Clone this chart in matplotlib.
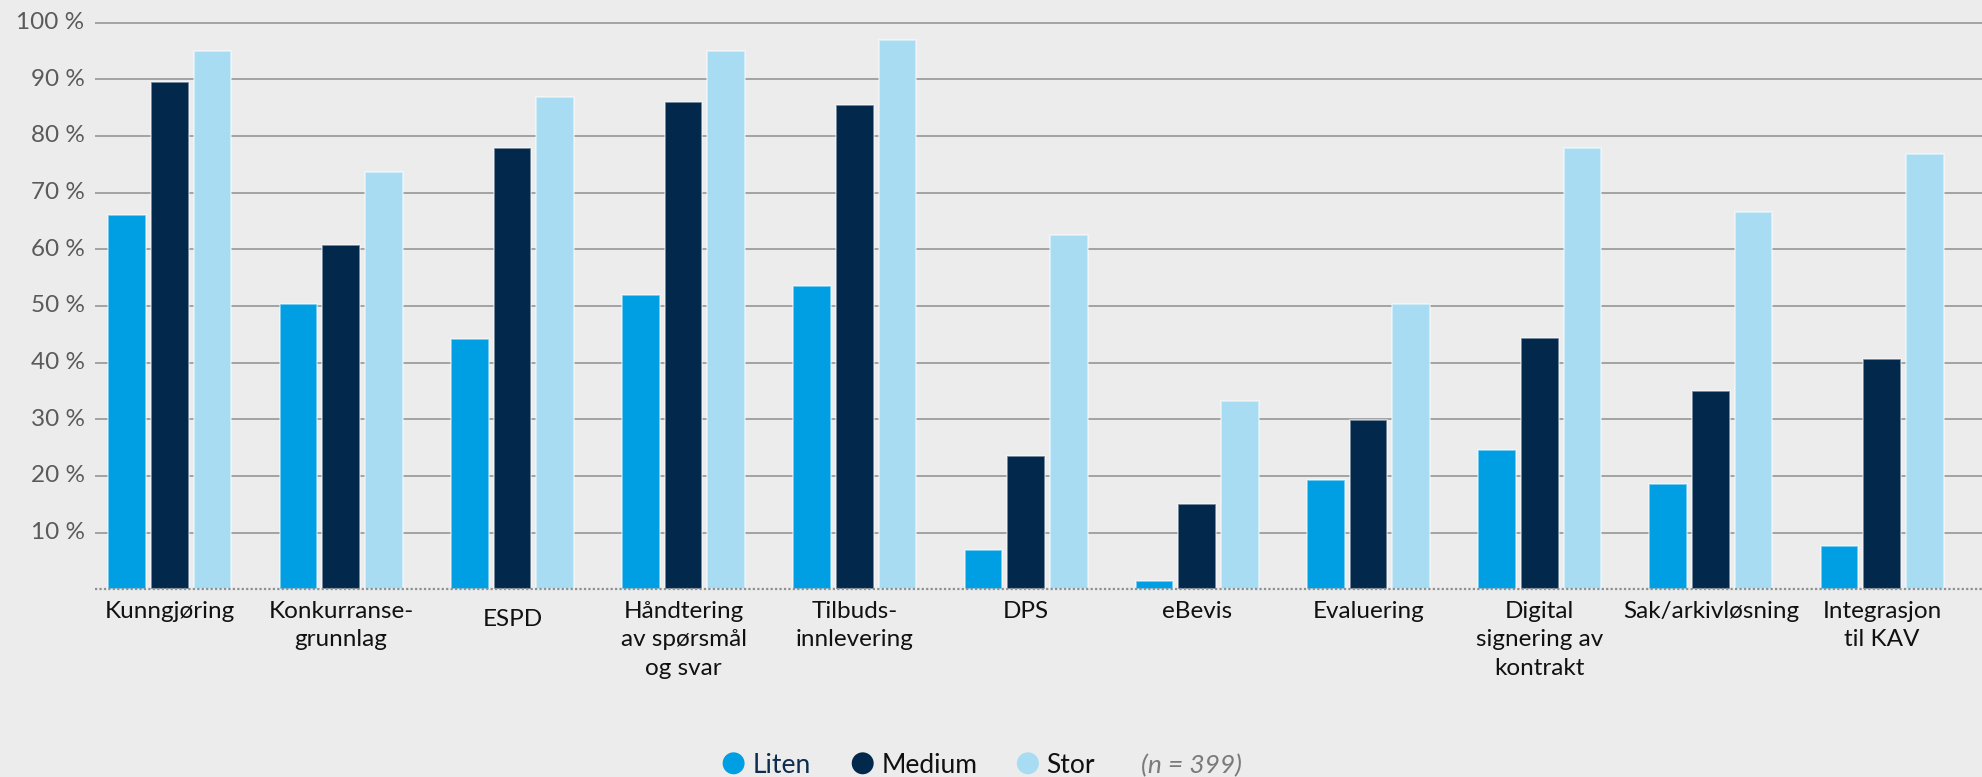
import matplotlib
matplotlib.use("Agg")
import matplotlib.pyplot as plt
import numpy as np
from matplotlib.transforms import ScaledTranslation

plt.rcParams['font.family'] = ['Lato', 'DejaVu Sans']

categories = ["Kunngjøring", "Konkurranse-\ngrunnlag", "ESPD", "Håndtering\nav spørsmål\nog svar",
              "Tilbuds-\ninnlevering", "DPS", "eBevis", "Evaluering",
              "Digital\nsignering av\nkontrakt", "Sak/arkivløsning", "Integrasjon\ntil KAV"]
liten = [66.0, 50.3, 44.2, 51.9, 53.5, 7.0, 1.5, 19.2, 24.6, 18.5, 7.6]
medium = [89.5, 60.8, 77.8, 86.0, 85.4, 23.5, 15.1, 29.8, 44.3, 35.0, 40.7]
stor = [95.0, 73.7, 86.9, 95.0, 96.9, 62.6, 33.3, 50.4, 77.8, 66.6, 76.8]
series_names = ["Liten", "Medium", "Stor"]
yticks = list(range(10, 101, 10))
note = "(n = 399)"

colors = ["#009FE3", "#02294B", "#A7DCF3"]
bg = "#ECECEC"

W, H = 1982, 777
fig = plt.figure(figsize=(W / 100, H / 100), dpi=100, facecolor=bg)

ax_left = 95 / W
ax_bottom = (H - 589.3) / H
ax_top = (H - 11.3) / H
ax = fig.add_axes([ax_left, ax_bottom, 1 - ax_left, ax_top - ax_bottom], facecolor=bg)

x = np.arange(len(categories))
bw = 0.220
off = 0.249
for vals, c, dx in zip([liten, medium, stor], colors, [-off, 0, off]):
    ax.bar(x + dx, vals, width=bw, color=c, edgecolor=(1, 1, 1, 0.55), linewidth=1.2, zorder=2)

ax.set_xlim(-0.4374, 10.583)
ax.set_ylim(0, 102)
ax.set_yticks(yticks)
ax.set_yticklabels([f"{v} %" for v in yticks])
ax.tick_params(axis='y', length=0, pad=7.5, labelsize=17.5, labelcolor="#5a5a5a")
for lbl in ax.get_yticklabels():
    lbl.set_va('center')
ax.set_xticks([])
ax.yaxis.grid(True, color="#8f8f8f", linewidth=1.1)
ax.set_axisbelow(True)
for s in ax.spines.values():
    s.set_visible(False)

ax.axhline(0, color="#909090", linewidth=1.6, linestyle=(0, (1, 1)), zorder=3, clip_on=False)

# category labels
extra = {2: 8}
for i, lab in enumerate(categories):
    dy = (12 + extra.get(i, 0)) / 100
    tr = ax.get_xaxis_transform() + ScaledTranslation(0, -dy, fig.dpi_scale_trans)
    ax.text(i, 0, lab, transform=tr, ha='center', va='top', fontsize=17.5,
            color="#111111", linespacing=1.42)

# legend
lax = fig.add_axes([0, 0, 1, 1], facecolor='none')
lax.set_xlim(0, W)
lax.set_ylim(H, 0)
lax.axis('off')
ly = 763.3
circle_x = [733.6, 862.7, 1027.9]
text_x = [752.7, 882.0, 1046.6]
text_colors = ["#0d2c4e", "#111111", "#111111"]
for cx, tx, c, name, tc in zip(circle_x, text_x, colors, series_names, text_colors):
    lax.scatter([cx], [ly], s=250, color=c, edgecolors='none', clip_on=False)
    lax.text(tx, 773.3, name, ha='left', va='baseline', fontsize=19, color=tc)
lax.text(1141, 773.3, note, ha='left', va='baseline', fontsize=19, color="#7a7a7a", style='italic')

fig.savefig("out.png", dpi=100, facecolor=bg)
